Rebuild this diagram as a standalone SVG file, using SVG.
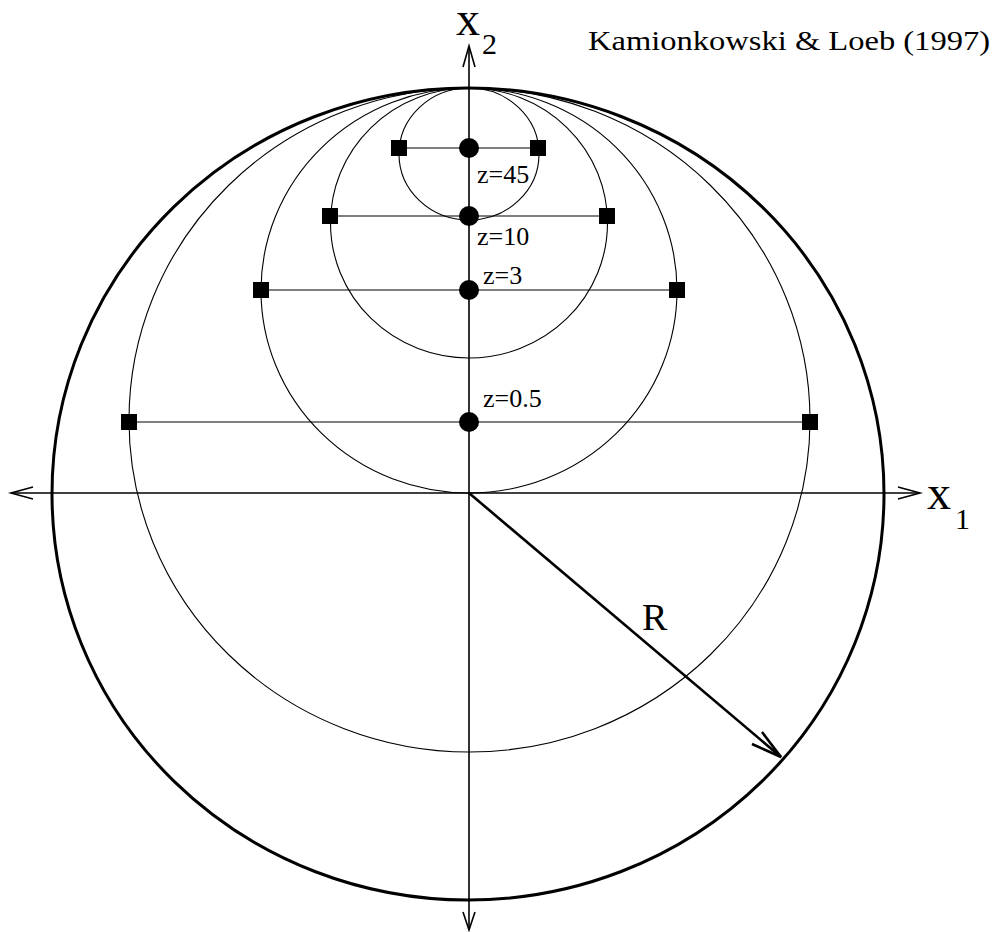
<svg xmlns="http://www.w3.org/2000/svg" width="997" height="932" viewBox="0 0 997 932">
<style>
.thin{fill:none;stroke:#000;stroke-width:1.1}
.axis{fill:none;stroke:#000;stroke-width:1.6}
.big{fill:none;stroke:#000;stroke-width:3}
.sq{fill:#000}
.dot{fill:#000}
text{font-family:'Liberation Serif','DejaVu Serif',serif;fill:#000}
</style>
<rect width="997" height="932" fill="#fff"/>
<g id="circles">
<ellipse id="outer" class="big" cx="468" cy="494" rx="416" ry="406"/>
<ellipse id="c05" class="thin" cx="469.5" cy="420" rx="340.5" ry="332"/>
<ellipse id="c3" class="thin" cx="469" cy="290.5" rx="208" ry="202.5"/>
<ellipse id="c10" class="thin" cx="469" cy="223" rx="138.5" ry="135"/>
<ellipse id="c45" class="thin" cx="469" cy="154" rx="70" ry="66"/>
</g>
<g id="connectors">
<line class="thin" x1="399" y1="148" x2="538" y2="148"/>
<line class="thin" x1="330" y1="216" x2="607" y2="216"/>
<line class="thin" x1="261" y1="290" x2="677" y2="290"/>
<line class="thin" x1="129" y1="422" x2="810" y2="422"/>
<line class="axis" x1="11" y1="493" x2="920" y2="493"/>
<line class="axis" x1="469" y1="46" x2="469" y2="930"/>
<polyline class="axis" points="33,487 11,493 33,499"/>
<polyline class="axis" points="898,487 920,493 898,499"/>
<polyline class="axis" points="463,67 469,46 475,67"/>
<polyline class="axis" points="463,912 469,930 475,912"/>
<line fill="none" stroke="#000" stroke-width="2.6" x1="469" y1="493" x2="781" y2="757"/>
<polyline fill="none" stroke="#000" stroke-width="2.6" points="762,732 781,757 752,744"/>
</g>
<g id="z45">
<rect class="sq" x="391" y="140" width="16" height="16"/>
<rect class="sq" x="530" y="140" width="16" height="16"/>
<circle class="dot" cx="469" cy="148" r="10"/>
<text x="477" y="183" font-family="Liberation Serif, DejaVu Serif, serif" font-size="26">z=45</text>
</g>
<g id="z10">
<rect class="sq" x="322" y="208" width="16" height="16"/>
<rect class="sq" x="599" y="208" width="16" height="16"/>
<circle class="dot" cx="469" cy="216" r="10"/>
<text x="477" y="245" font-family="Liberation Serif, DejaVu Serif, serif" font-size="26">z=10</text>
</g>
<g id="z3">
<rect class="sq" x="253" y="282" width="16" height="16"/>
<rect class="sq" x="669" y="282" width="16" height="16"/>
<circle class="dot" cx="469" cy="290" r="10"/>
<text x="483" y="284" font-family="Liberation Serif, DejaVu Serif, serif" font-size="26">z=3</text>
</g>
<g id="z05">
<rect class="sq" x="121" y="414" width="16" height="16"/>
<rect class="sq" x="802" y="414" width="16" height="16"/>
<circle class="dot" cx="469" cy="422" r="10"/>
<text x="483" y="407" font-family="Liberation Serif, DejaVu Serif, serif" font-size="26">z=0.5</text>
</g>
<g id="labels" font-family="Liberation Serif, DejaVu Serif, serif">
<text x="456" y="35" font-size="48">x</text>
<text x="482" y="54" font-size="30">2</text>
<text x="927" y="509" font-size="48">x</text>
<text x="955" y="529" font-size="30">1</text>
<text x="642" y="630" font-size="38">R</text>
<text x="588" y="50" font-size="27" textLength="402" lengthAdjust="spacingAndGlyphs">Kamionkowski &amp; Loeb (1997)</text>
</g>
</svg>
